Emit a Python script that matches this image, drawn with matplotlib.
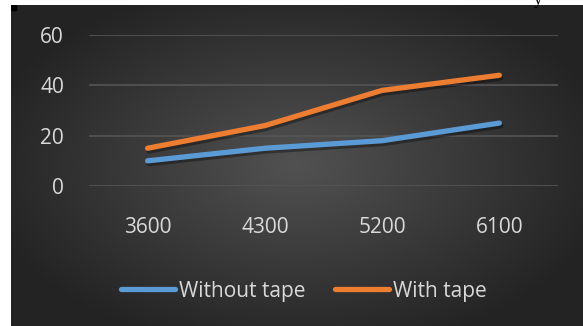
import numpy as np
import matplotlib
matplotlib.use("Agg")
import matplotlib.pyplot as plt
import matplotlib.patheffects as pe
from matplotlib.lines import Line2D

categories = ["3600", "4300", "5200", "6100"]
without_tape = [10, 15, 18, 25]
with_tape = [15, 24, 38, 44]
y_ticks = [0, 20, 40, 60]

W, H = 583, 326
fig = plt.figure(figsize=(W / 100, H / 100), dpi=100, facecolor="white")

# dark radial-gradient panel like the Excel style
bg = fig.add_axes([11 / W, 0, (W - 11) / W, (H - 5) / H])
bg.set_axis_off()
yy, xx = np.mgrid[-1:1:200j, -1:1:300j]
r = np.sqrt((xx * 0.95) ** 2 + (yy * 0.9) ** 2)
shade = np.clip(0.32 - 0.17 * r, 0.14, 0.32)
bg.imshow(np.dstack([shade] * 3), aspect="auto", extent=[0, 1, 0, 1], interpolation="bilinear")
bg.add_patch(plt.Rectangle((0, 0.985), 0.009, 0.015, color="black", transform=bg.transAxes))

txt = "#d9d9d9"
font = "Open Sans"

ax = fig.add_axes([89 / W, (H - 186) / H, (558 - 89) / W, (186 - 35) / H])
ax.patch.set_alpha(0)
x = np.arange(len(categories))
ax.set_xlim(-0.5, len(categories) - 0.5)
ax.set_ylim(0, 60)
for s in ax.spines.values():
    s.set_visible(False)
ax.set_yticks(y_ticks)
ax.set_yticklabels([str(v) for v in y_ticks], color=txt, fontsize=15, family=font)
ax.set_xticks(x)
ax.set_xticklabels(categories, color=txt, fontsize=15, family=font)
ax.tick_params(length=0, axis="y", pad=18)
ax.tick_params(length=0, axis="x", pad=22)
ax.yaxis.grid(True, color="#555555", lw=1.2)
ax.set_axisbelow(True)

shadow = [pe.SimpleLineShadow(offset=(1, -2), shadow_color="black", alpha=0.35), pe.Normal()]
ax.plot(x, without_tape, color="#5B9BD5", lw=3.8, solid_capstyle="round",
        path_effects=shadow, clip_on=False)
ax.plot(x, with_tape, color="#ED7D31", lw=3.8, solid_capstyle="round",
        path_effects=shadow, clip_on=False)

handles = [Line2D([], [], color="#5B9BD5", lw=3.8, solid_capstyle="round"),
           Line2D([], [], color="#ED7D31", lw=3.8, solid_capstyle="round")]
leg = fig.legend(handles, ["Without tape", "With tape"], loc="center",
                 bbox_to_anchor=(0.521, 1 - 291 / H), ncol=2, frameon=False,
                 handlelength=2.6, handletextpad=0.2, columnspacing=1.4,
                 prop={"family": font, "size": 15})
for t in leg.get_texts():
    t.set_color(txt)

fig.text(534 / W, 1.0, "y", fontsize=12, family="Liberation Serif", color="black",
         ha="left", va="center")

fig.savefig("out.png", dpi=100, facecolor="white")
